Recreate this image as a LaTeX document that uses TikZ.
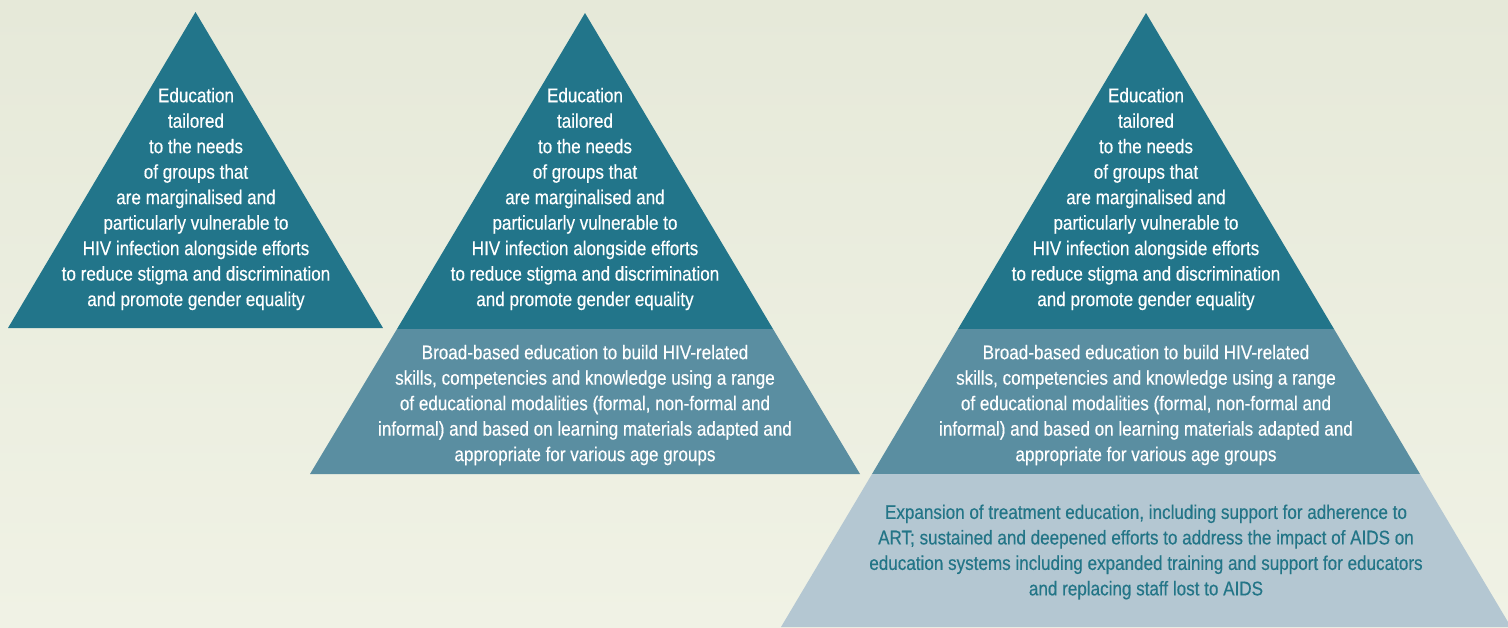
\documentclass[tikz,border=0pt]{standalone}
\usepackage{fontspec}
\setmainfont{Liberation Sans}[FakeStretch=0.86,FakeBold=0.35]

\definecolor{bgtop}{HTML}{E6E9D9}
\definecolor{bgbottom}{HTML}{F0F2E5}
\definecolor{tealdark}{HTML}{22758A}
\definecolor{tealmid}{HTML}{5A8EA1}
\definecolor{teallight}{HTML}{B4C7D2}
\definecolor{tealtext}{HTML}{237587}

\tikzset{
  bandtext/.style={align=center, inner sep=0pt,
    font=\fontsize{11.3}{14.5}\selectfont},
  whitetext/.style={bandtext, text=white},
  tealtxt/.style={bandtext, text=tealtext}
}

\begin{document}
\begin{tikzpicture}[x=0.02cm,y=-0.02cm]
% page and background
\useasboundingbox (0,0) rectangle (1508,627);
\shade[top color=bgtop,bottom color=bgbottom] (0,0) rectangle (1508,627);
\clip (0,0) rectangle (1508,627);

% first pyramid: one level
\fill[tealdark] (195.5,12) -- (383,328) -- (8,328) -- cycle;

% second pyramid: two levels
\fill[tealdark] (585,13) -- (773,329) -- (397,329) -- cycle;
\fill[tealmid] (397,329) -- (773,329) -- (860,474) -- (310,474) -- cycle;

% third pyramid: three levels
\fill[tealdark] (1146,13) -- (1334,329) -- (958,329) -- cycle;
\fill[tealmid] (958,329) -- (1334,329) -- (1420,474) -- (872,474) -- cycle;
\fill[teallight] (872,474) -- (1420,474) -- (1511,627) -- (781,627) -- cycle;

% level texts
\foreach \cx/\nm in {196/tailoredA,585/tailoredB,1146/tailoredC}
  \node[whitetext] (\nm) at (\cx,199) {Education\\tailored\\to the needs\\of groups that\\are marginalised and\\particularly vulnerable to\\HIV infection alongside efforts\\to reduce stigma and discrimination\\and promote gender equality};

\foreach \cx/\nm in {585/broadB,1146/broadC}
  \node[whitetext] (\nm) at (\cx,405) {Broad-based education to build HIV-related\\skills, competencies and knowledge using a range\\of educational modalities (formal, non-formal and\\informal) and based on learning materials adapted and\\appropriate for various age groups};

\node[tealtxt] (treatC) at (1146,552) {Expansion of treatment education, including support for adherence to\\ART; sustained and deepened efforts to address the impact of AIDS on\\education systems including expanded training and support for educators\\and replacing staff lost to AIDS};
\end{tikzpicture}
\end{document}
